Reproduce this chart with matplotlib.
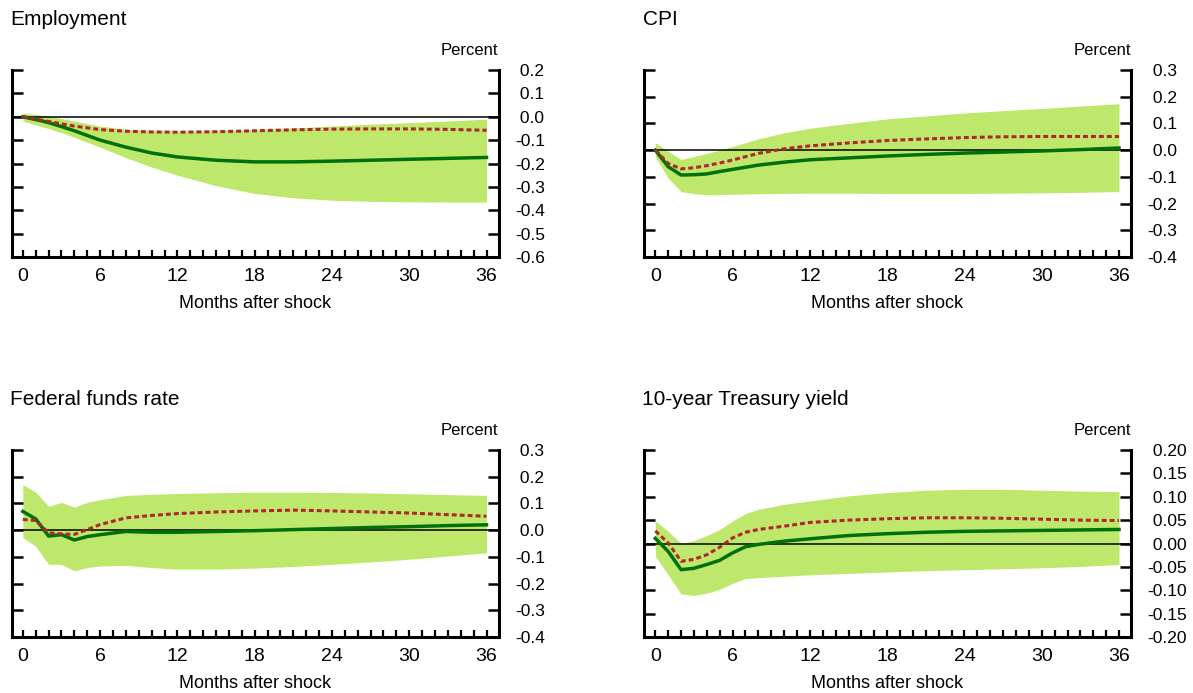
import matplotlib
matplotlib.use("Agg")
import matplotlib.pyplot as plt
import numpy as np
from matplotlib.ticker import MultipleLocator, FixedLocator

plt.rcParams["font.family"] = ["Liberation Sans", "DejaVu Sans"]

W, H = 1193, 693

BAND = "#bde86b"
GREEN = "#00700a"
RED = "#b0262a"

# Employment
emp_months = [0, 1, 2, 3, 4, 6, 8, 10, 12, 15, 18, 21, 24, 27, 30, 33, 36]
emp_base = [0.0, -0.012, -0.025, -0.042, -0.06, -0.1, -0.13, -0.155, -0.172, -0.186,
            -0.193, -0.193, -0.19, -0.186, -0.182, -0.178, -0.174]
emp_alt = [0.0, -0.01, -0.02, -0.03, -0.04, -0.055, -0.062, -0.065, -0.066, -0.064,
           -0.06, -0.056, -0.053, -0.052, -0.052, -0.054, -0.058]
emp_hi = [0.015, 0.01, 0.003, -0.008, -0.018, -0.04, -0.053, -0.058, -0.06, -0.058,
          -0.054, -0.048, -0.04, -0.032, -0.025, -0.018, -0.01]
emp_lo = [-0.018, -0.035, -0.05, -0.068, -0.088, -0.13, -0.175, -0.215, -0.25, -0.295,
          -0.328, -0.347, -0.357, -0.362, -0.364, -0.365, -0.365]

# CPI
cpi_months = [0, 1, 2, 3, 4, 5, 6, 8, 10, 12, 15, 18, 21, 24, 27, 30, 33, 36]
cpi_base = [0.0, -0.062, -0.093, -0.092, -0.089, -0.08, -0.072, -0.056, -0.045, -0.036,
            -0.029, -0.022, -0.016, -0.011, -0.007, -0.003, 0.002, 0.008]
cpi_alt = [0.0, -0.05, -0.07, -0.066, -0.058, -0.048, -0.037, -0.012, 0.005, 0.016,
           0.027, 0.036, 0.042, 0.047, 0.05, 0.051, 0.051, 0.051]
cpi_hi = [0.028, -0.005, -0.035, -0.024, -0.012, 0.0, 0.014, 0.042, 0.065, 0.082,
          0.1, 0.117, 0.128, 0.139, 0.148, 0.156, 0.165, 0.174]
cpi_lo = [-0.025, -0.105, -0.155, -0.163, -0.167, -0.167, -0.165, -0.163, -0.162, -0.161,
          -0.161, -0.162, -0.162, -0.162, -0.161, -0.16, -0.158, -0.155]

# Federal funds rate
ff_months = [0, 1, 2, 3, 4, 5, 6, 8, 10, 12, 15, 18, 21, 24, 27, 30, 33, 36]
ff_base = [0.07, 0.042, -0.022, -0.017, -0.037, -0.024, -0.017, -0.005, -0.008, -0.008,
           -0.005, -0.002, 0.002, 0.006, 0.01, 0.013, 0.017, 0.02]
ff_alt = [0.04, 0.036, -0.01, -0.014, -0.016, 0.002, 0.021, 0.046, 0.055, 0.062,
          0.068, 0.072, 0.075, 0.072, 0.068, 0.064, 0.058, 0.052]
ff_hi = [0.17, 0.142, 0.089, 0.104, 0.086, 0.104, 0.114, 0.13, 0.134, 0.137,
         0.14, 0.142, 0.142, 0.141, 0.139, 0.136, 0.133, 0.13]
ff_lo = [-0.028, -0.06, -0.128, -0.128, -0.152, -0.14, -0.134, -0.132, -0.14, -0.146,
         -0.146, -0.142, -0.136, -0.128, -0.119, -0.109, -0.097, -0.085]

# 10-year Treasury yield
ty_months = [0, 1, 2, 3, 4, 5, 6, 7, 8, 10, 12, 15, 18, 21, 24, 27, 30, 33, 36]
ty_base = [0.011, -0.017, -0.056, -0.053, -0.045, -0.036, -0.02, -0.007, -0.002, 0.005,
           0.01, 0.017, 0.021, 0.024, 0.026, 0.027, 0.028, 0.029, 0.03]
ty_alt = [0.027, 0.001, -0.038, -0.034, -0.024, -0.008, 0.012, 0.024, 0.03, 0.037,
          0.045, 0.05, 0.053, 0.055, 0.055, 0.054, 0.052, 0.05, 0.049]
ty_hi = [0.048, 0.026, 0.0, 0.006, 0.017, 0.03, 0.048, 0.064, 0.073, 0.084,
         0.091, 0.102, 0.109, 0.114, 0.116, 0.116, 0.114, 0.112, 0.111]
ty_lo = [-0.027, -0.067, -0.108, -0.111, -0.106, -0.098, -0.085, -0.075, -0.073, -0.07,
         -0.067, -0.064, -0.061, -0.058, -0.056, -0.054, -0.052, -0.049, -0.045]

panels = [
    ("Employment", emp_months, emp_base, emp_alt, emp_hi, emp_lo, (-0.6, 0.2), 0.1, 1),
    ("CPI", cpi_months, cpi_base, cpi_alt, cpi_hi, cpi_lo, (-0.4, 0.3), 0.1, 1),
    ("Federal funds rate", ff_months, ff_base, ff_alt, ff_hi, ff_lo, (-0.4, 0.3), 0.1, 1),
    ("10-year Treasury yield", ty_months, ty_base, ty_alt, ty_hi, ty_lo, (-0.2, 0.2), 0.05, 2),
]

# pixel boxes: left spine x, top y
lefts = [11.5, 644, 11.5, 644]
tops = [70, 70, 450, 450]
ax_w, ax_h = 487, 187

fig = plt.figure(figsize=(W / 100, H / 100), dpi=100)


def draw_panel(ax, title, months, base, alt, hi, lo, ylim, step, dec, left, top):
    ax.fill_between(months, lo, hi, color=BAND, linewidth=0, zorder=1)
    ax.axhline(0, color="black", linewidth=1.1, zorder=2)
    ax.plot(months, base, color=GREEN, linewidth=2.5, zorder=3)
    ax.plot(months, alt, color=RED, linewidth=2.2, linestyle=(0, (1.6, 1.0)), zorder=4)

    ax.set_xlim(-0.88, 36.93)
    ax.set_ylim(*ylim)
    ax.spines["top"].set_visible(False)
    for s in ("left", "right", "bottom"):
        ax.spines[s].set_linewidth(2.2)

    ax.xaxis.set_major_locator(FixedLocator(range(0, 37, 6)))
    ax.xaxis.set_minor_locator(MultipleLocator(1))
    ax.tick_params(axis="x", which="both", direction="in", length=5, width=1.6,
                   labelsize=14, pad=8, top=False)

    yt = np.round(np.arange(ylim[0], ylim[1] + step / 2, step), 3)
    ax.set_yticks(yt)
    labels = []
    for v in yt:
        s = f"{abs(v):.{dec}f}"
        labels.append(("-" + s) if v < 0 else (" " + s))
    ax.set_yticklabels(labels)
    ax.tick_params(axis="y", which="major", direction="in", length=8, width=1.8,
                   left=True, right=True, labelleft=False, labelright=True,
                   labelsize=12.5, pad=12)

    fig.text(left / W - 1.5 / W, 1 - (top - 45) / H, title, fontsize=15,
             ha="left", va="baseline")
    fig.text((left + ax_w) / W, 1 - (top - 15) / H, "Percent", fontsize=12,
             ha="right", va="baseline")
    fig.text((left + ax_w / 2) / W, 1 - (top + 238) / H, "Months after shock",
             fontsize=13, ha="center", va="baseline")


for (title, months, base, alt, hi, lo, ylim, step, dec), left, top in zip(panels, lefts, tops):
    ax = fig.add_axes([left / W, 1 - (top + ax_h) / H, ax_w / W, ax_h / H])
    draw_panel(ax, title, months, base, alt, hi, lo, ylim, step, dec, left, top)

fig.savefig("out.png", dpi=100)
